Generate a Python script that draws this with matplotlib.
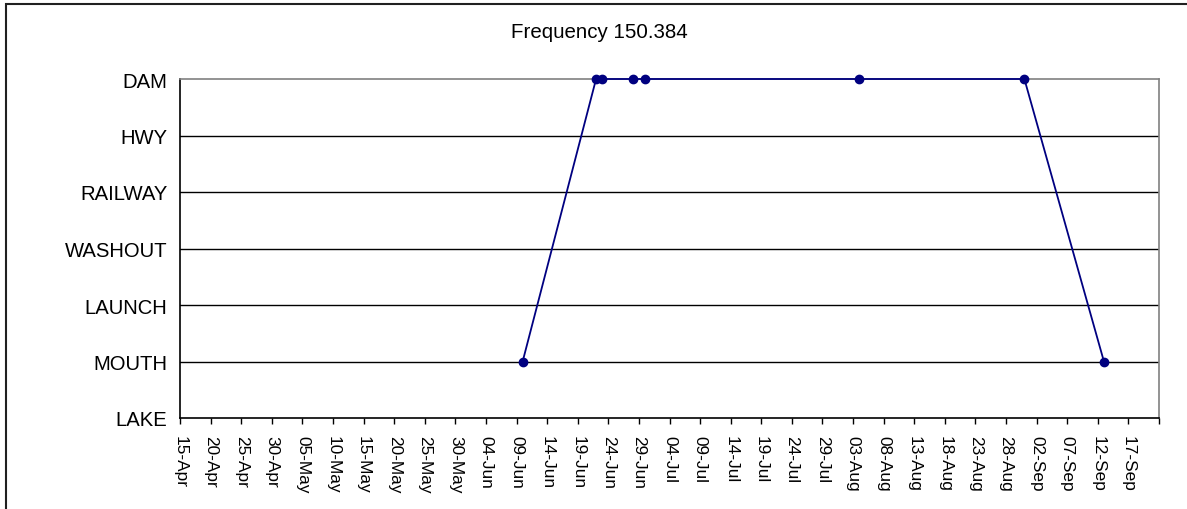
###############################################################################
#0. Import Modules
###############################################################################

import datetime as dt
import matplotlib
matplotlib.use('Agg')
import matplotlib.pyplot as plt
from matplotlib.patches import Rectangle

plt.rcParams['font.family'] = ['Liberation Sans', 'DejaVu Sans']

###############################################################################
#1. Data
###############################################################################

chartTitle = 'Frequency 150.384'
locations = ['LAKE', 'MOUTH', 'LAUNCH', 'WASHOUT', 'RAILWAY', 'HWY', 'DAM'] #bottom to top
detectDates = ['2005-06-10', '2005-06-22', '2005-06-23', '2005-06-28',
               '2005-06-30', '2005-08-04', '2005-08-31', '2005-09-13']
detectSites = ['MOUTH', 'DAM', 'DAM', 'DAM', 'DAM', 'DAM', 'DAM', 'MOUTH']
axisStart = '2005-04-15'
axisEnd = '2005-09-22'

###############################################################################
#2. Plot
###############################################################################

W, H = 1187, 510
fig = plt.figure(figsize=(W/100, H/100), dpi=100)
ax = fig.add_axes([180/W, 1 - 419/H, 979/W, 339/H])

#Outer chart frame (right and bottom edges fall outside the picture)
fig.patches.append(Rectangle((6/W, -0.02), 1.1, 1 - 5/H + 0.02, transform=fig.transFigure,
                             fill=False, ec='#202020', lw=1.5))

xDates = [dt.datetime.strptime(d, '%Y-%m-%d') for d in detectDates]
yLevels = [locations.index(s) for s in detectSites]
ax.plot(xDates, yLevels, color='#000080', lw=1.3, marker='o', markersize=6,
        markerfacecolor='#000080', markeredgecolor='#000080', clip_on=False, zorder=5)

#Y axis: one row per location
ax.set_ylim(0, len(locations) - 1)
ax.set_yticks(range(len(locations)))
ax.set_yticklabels(locations, fontsize=14.6)
ax.tick_params(axis='y', length=0, pad=9)
for lvl in range(1, len(locations) - 1):
    ax.axhline(lvl, color='black', lw=1, zorder=1)

#X axis: every 5 days, last tick unlabelled
start = dt.datetime.strptime(axisStart, '%Y-%m-%d')
end = dt.datetime.strptime(axisEnd, '%Y-%m-%d')
ticks = []
t = start
while t <= end:
    ticks.append(t)
    t += dt.timedelta(days=5)
ax.set_xlim(start, end)
ax.set_xticks(ticks)
ax.set_xticklabels([d.strftime('%d-%b') for d in ticks[:-1]] + [''], rotation=-90, fontsize=12.4)
ax.tick_params(axis='x', direction='out', length=4, width=1, pad=8)

#Spines
ax.spines['left'].set_color('black')
ax.spines['bottom'].set_color('black')
ax.spines['top'].set_color('#808080')
ax.spines['right'].set_color('#808080')
for s in ax.spines.values():
    s.set_linewidth(1.2)

fig.text(599/W, 1 - 32/H, chartTitle, ha='center', va='center', fontsize=14.8)

plt.savefig('out.png', dpi=100)
